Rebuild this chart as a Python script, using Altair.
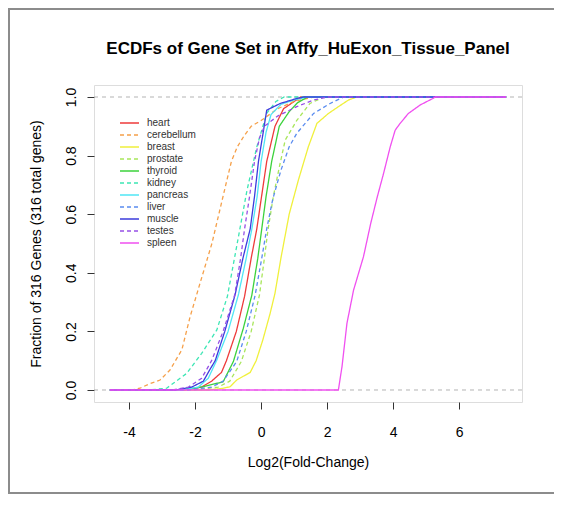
import altair as alt
import pandas as pd

tissues = ["heart", "cerebellum", "breast", "prostate", "thyroid", "kidney",
           "pancreas", "liver", "muscle", "testes", "spleen"]
colors = ["#EE3B3B", "#F5A04A", "#F0F03C", "#A8E65A", "#3CD23C", "#3CE6B4",
          "#50E6F5", "#5A8CF0", "#3C3CDC", "#9650E6", "#F050F0"]
dashes = [[1, 0], [4, 3], [1, 0], [4, 3], [1, 0], [4, 3],
          [1, 0], [4, 3], [1, 0], [4, 3], [1, 0]]

heart_x = [-4.58, -2.3, -1.8, -1.5, -1.2, -1.05, -0.75, -0.5, -0.3, -0.13, 0.0, 0.17, 0.42, 0.68, 1.2, 7.42]
heart_y = [0, 0, 0.01, 0.03, 0.06, 0.10, 0.20, 0.32, 0.45, 0.55, 0.65, 0.78, 0.90, 0.96, 1.0, 1.0]

cerebellum_x = [-4.58, -3.9, -3.67, -3.4, -3.06, -2.76, -2.4, -2.15, -1.85, -1.49, -1.28, -1.07, -0.9, -0.72, -0.5, -0.3, 0.0, 0.5, 1.0, 1.6, 7.42]
cerebellum_y = [0, 0, 0.006, 0.02, 0.034, 0.068, 0.137, 0.25, 0.364, 0.5, 0.6, 0.7, 0.78, 0.83, 0.87, 0.9, 0.92, 0.96, 0.985, 1.0, 1.0]

breast_x = [-4.58, -1.6, -1.2, -0.94, -0.74, -0.33, -0.15, 0.05, 0.27, 0.42, 0.6, 0.7, 0.85, 1.13, 1.43, 1.69, 2.04, 2.34, 2.65, 2.9, 7.42]
breast_y = [0, 0, 0.005, 0.011, 0.034, 0.06, 0.10, 0.17, 0.26, 0.33, 0.45, 0.51, 0.6, 0.717, 0.83, 0.91, 0.944, 0.967, 0.99, 1.0, 1.0]

prostate_x = [-4.58, -2.0, -1.3, -0.95, -0.6, -0.3, -0.05, 0.1, 0.2, 0.37, 0.55, 0.73, 1.08, 1.48, 1.9, 7.42]
prostate_y = [0, 0, 0.01, 0.03, 0.097, 0.2, 0.324, 0.45, 0.54, 0.66, 0.76, 0.853, 0.92, 0.978, 1.0, 1.0]

thyroid_x = [-4.58, -2.4, -1.8, -1.15, -0.84, -0.54, -0.28, -0.1, 0.02, 0.15, 0.32, 0.55, 0.85, 1.1, 1.4, 7.42]
thyroid_y = [0, 0, 0.01, 0.028, 0.097, 0.21, 0.324, 0.45, 0.55, 0.66, 0.78, 0.9, 0.95, 0.98, 1.0, 1.0]

kidney_x = [-4.58, -3.4, -2.86, -2.25, -1.8, -1.34, -1.02, -0.74, -0.43, -0.13, 0.17, 0.45, 0.7, 7.42]
kidney_y = [0, 0, 0.006, 0.057, 0.125, 0.205, 0.32, 0.49, 0.68, 0.83, 0.944, 0.985, 1.0, 1.0]

pancreas_x = [-4.58, -2.4, -1.9, -1.6, -1.35, -1.0, -0.69, -0.45, -0.28, -0.12, 0.0, 0.15, 0.3, 0.6, 1.0, 1.4, 7.42]
pancreas_y = [0, 0, 0.01, 0.04, 0.1, 0.2, 0.324, 0.45, 0.55, 0.66, 0.78, 0.88, 0.94, 0.975, 0.99, 1.0, 1.0]

liver_x = [-4.58, -2.2, -1.5, -1.15, -0.74, -0.45, -0.18, 0.02, 0.17, 0.35, 0.6, 0.85, 1.08, 1.59, 2.09, 2.5, 7.42]
liver_y = [0, 0, 0.01, 0.03, 0.097, 0.2, 0.324, 0.45, 0.55, 0.65, 0.75, 0.83, 0.876, 0.944, 0.978, 1.0, 1.0]

muscle_x = [-4.58, -2.6, -2.1, -1.75, -1.55, -1.39, -1.1, -0.79, -0.55, -0.33, -0.2, -0.08, 0.05, 0.17, 0.58, 1.08, 1.3, 7.42]
muscle_y = [0, 0, 0.01, 0.03, 0.07, 0.1, 0.2, 0.324, 0.45, 0.55, 0.66, 0.78, 0.87, 0.955, 0.978, 0.995, 1.0, 1.0]

testes_x = [-4.58, -2.7, -2.2, -1.8, -1.5, -1.15, -0.8, -0.62, -0.5, -0.35, -0.2, -0.05, 0.1, 0.5, 1.08, 1.6, 2.0, 7.42]
testes_y = [0, 0, 0.01, 0.04, 0.1, 0.2, 0.324, 0.45, 0.55, 0.66, 0.78, 0.86, 0.9, 0.935, 0.967, 0.99, 1.0, 1.0]

spleen_x = [-4.58, 2.34, 2.45, 2.6, 2.8, 3.1, 3.32, 3.52, 3.71, 3.91, 4.06, 4.21, 4.46, 4.82, 5.22, 5.28, 7.42]
spleen_y = [0, 0, 0.08, 0.228, 0.341, 0.455, 0.569, 0.66, 0.74, 0.83, 0.887, 0.91, 0.944, 0.973, 0.996, 1.0, 1.0]

ref_lines = [0.0, 1.0]
x_ticks = [-4, -2, 0, 2, 4, 6]
y_ticks = [0.0, 0.2, 0.4, 0.6, 0.8, 1.0]

series = {
    "heart": (heart_x, heart_y), "cerebellum": (cerebellum_x, cerebellum_y),
    "breast": (breast_x, breast_y), "prostate": (prostate_x, prostate_y),
    "thyroid": (thyroid_x, thyroid_y), "kidney": (kidney_x, kidney_y),
    "pancreas": (pancreas_x, pancreas_y), "liver": (liver_x, liver_y),
    "muscle": (muscle_x, muscle_y), "testes": (testes_x, testes_y),
    "spleen": (spleen_x, spleen_y),
}
rows = []
for t in tissues:
    xs, ys = series[t]
    for i, (a, b) in enumerate(zip(xs, ys)):
        rows.append({"tissue": t, "x": a, "y": b, "i": i})
df = pd.DataFrame(rows)
ref_df = pd.DataFrame({"y": ref_lines})

FONT = "Liberation Sans"
xscale = alt.Scale(domain=[-5.06, 7.9], nice=False, zero=False)
yscale = alt.Scale(domain=[-0.041, 1.041], nice=False, zero=False)

x_axis = alt.Axis(values=x_ticks, title="Log2(Fold-Change)", grid=False, domain=False,
                  tickSize=7, tickColor="#333", labelFontSize=14, labelColor="#000",
                  labelFont=FONT, labelPadding=16, labelExpr="toString(datum.value)",
                  titleFont=FONT, titleFontSize=14, titleFontWeight="normal",
                  titleColor="#000", titlePadding=16)
y_axis = alt.Axis(values=y_ticks, format=".1f", title="Fraction of 316 Genes (316 total genes)",
                  grid=False, domain=False, tickSize=7, tickColor="#333",
                  labelFontSize=14, labelColor="#000", labelFont=FONT, labelAngle=270,
                  labelAlign="center", labelBaseline="bottom", labelPadding=9,
                  titleFont=FONT, titleFontSize=14, titleFontWeight="normal",
                  titleColor="#000", titlePadding=21)

legend_cfg = dict(title=None, orient="none", legendX=30.5, legendY=33,
                  symbolType="M-4.75,0H4.75", symbolSize=16, symbolStrokeWidth=1.5,
                  labelFont=FONT, labelFontSize=10, labelColor="#333", labelOffset=12.5,
                  rowPadding=2, padding=0)

lines = alt.Chart(df).mark_line(strokeWidth=1.3).encode(
    x=alt.X("x:Q", scale=xscale, axis=x_axis),
    y=alt.Y("y:Q", scale=yscale, axis=y_axis),
    color=alt.Color("tissue:N", scale=alt.Scale(domain=tissues, range=colors),
                    legend=alt.Legend(**legend_cfg)),
    strokeDash=alt.StrokeDash("tissue:N", scale=alt.Scale(domain=tissues, range=dashes),
                              legend=alt.Legend(**legend_cfg)),
    detail="tissue:N",
    order="i:Q",
)

refs = alt.Chart(ref_df).mark_rule(color="#B3B3B3", strokeDash=[4, 4], strokeWidth=1).encode(
    y=alt.Y("y:Q", scale=yscale, axis=y_axis)
)

frame_left = alt.Chart(ref_df.head(1)).mark_rule(color="#8C8C8C", strokeWidth=2).encode(
    x=alt.value(-85), y=alt.value(-76), y2=alt.value(408))
frame_top = alt.Chart(ref_df.head(1)).mark_rule(color="#8C8C8C", strokeWidth=2).encode(
    x=alt.value(-86), x2=alt.value(460), y=alt.value(-76))
frame_bottom = alt.Chart(ref_df.head(1)).mark_rule(color="#8C8C8C", strokeWidth=2).encode(
    x=alt.value(-86), x2=alt.value(460), y=alt.value(408))

chart = alt.layer(refs, lines, frame_left, frame_top, frame_bottom).properties(
    width=428, height=317,
    autosize=alt.AutoSizeParams(type="none"),
    padding={"left": 86, "top": 77, "right": 32, "bottom": 92},
    title=alt.Title("ECDFs of Gene Set in Affy_HuExon_Tissue_Panel", font=FONT, fontSize=17,
                    fontWeight="bold", color="#000", anchor="middle", offset=0,
                    baseline="alphabetic", dy=63),
).configure_view(stroke="#444", strokeWidth=1).configure(background="white")

chart.save("out.html", embed_options={"renderer": "svg", "actions": False})
